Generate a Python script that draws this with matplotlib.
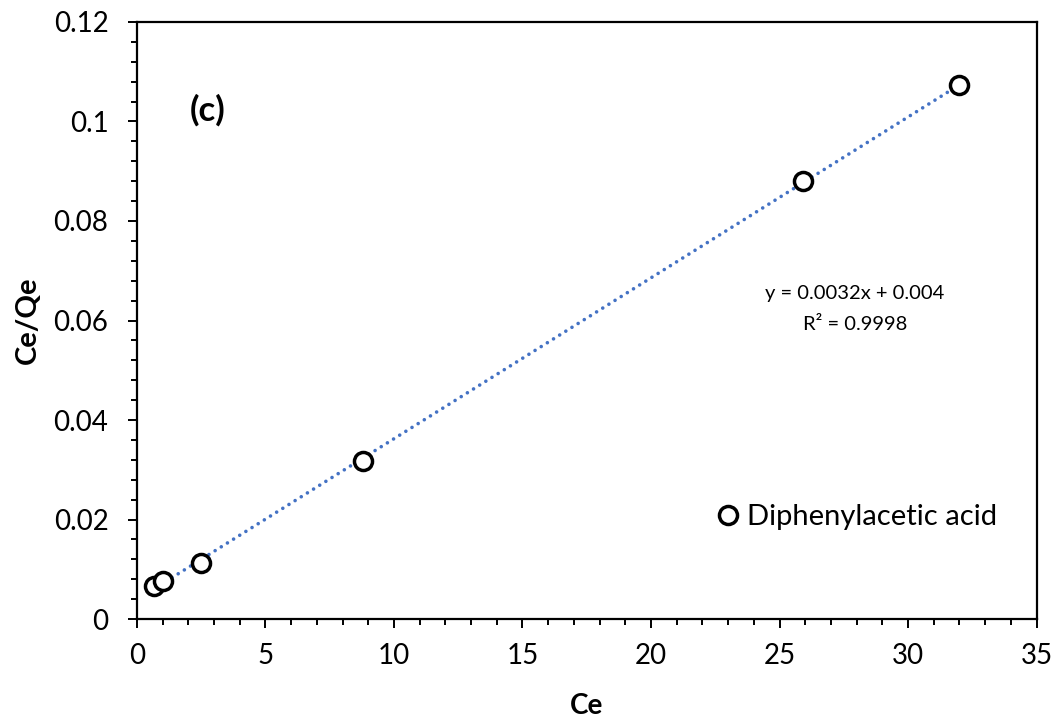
import matplotlib
matplotlib.use("Agg")
import matplotlib.pyplot as plt
from matplotlib.ticker import MultipleLocator, FuncFormatter
import numpy as np

plt.rcParams['font.family'] = ['Lato', 'DejaVu Sans']

# data
ce = [0.65, 1.0, 2.5, 8.8, 25.9, 32.0]
ce_qe = [0.0066, 0.0076, 0.0113, 0.0317, 0.0880, 0.1073]
series_name = "Diphenylacetic acid"
eq_line = "y = 0.0032x + 0.004"
r2_line = "R\u00b2 = 0.9998"

fig = plt.figure(figsize=(10.61, 7.23), dpi=100)
ax = fig.add_axes([0.129, 0.1438, 0.848, 0.8258])

# linear trendline (dotted, excel blue)
coef = np.polyfit(ce, ce_qe, 1)
xs = np.array([min(ce), max(ce)])
ax.plot(xs, np.polyval(coef, xs), color="#4472C4", lw=2.6,
        linestyle=(0, (0.01, 2.0)), dash_capstyle="round", zorder=2)

ax.plot(ce, ce_qe, 'o', mfc="white", mec="black", ms=13, mew=2.5,
        ls="none", label=series_name, zorder=3)

ax.set_xlim(0, 35)
ax.set_ylim(0, 0.12)
ax.xaxis.set_major_locator(MultipleLocator(5))
ax.xaxis.set_minor_locator(MultipleLocator(1))
ax.yaxis.set_major_locator(MultipleLocator(0.02))
ax.yaxis.set_minor_locator(MultipleLocator(0.004))
ax.yaxis.set_major_formatter(FuncFormatter(lambda v, p: "%g" % round(v, 4)))

for s in ax.spines.values():
    s.set_linewidth(1.6)
ax.tick_params(which="both", direction="out", width=1.4, labelsize=20)
ax.tick_params(which="major", length=6.5)
ax.tick_params(axis="y", which="major", pad=14)
ax.tick_params(axis="x", which="major", pad=11)
ax.tick_params(which="minor", length=4)

ax.set_xlabel("Ce", fontsize=20, fontweight="bold", va="center")
ax.set_ylabel("Ce/Qe", fontsize=21, fontweight="bold", va="center")
ax.xaxis.set_label_coords(0.5, -0.1457)
ax.yaxis.set_label_coords(-0.121, 0.5)

ax.text(0.079, 0.852, "(c)", transform=ax.transAxes, fontsize=25,
        fontweight="bold", ha="center", va="center")
ax.text(0.798, 0.546, eq_line, transform=ax.transAxes, fontsize=14.5,
        ha="center", va="center")
ax.text(0.798, 0.4925, r2_line, transform=ax.transAxes, fontsize=14.5,
        ha="center", va="center")

ax.legend(loc="center left", bbox_to_anchor=(0.6406, 0.171), frameon=False,
          fontsize=21, borderpad=0, borderaxespad=0, handletextpad=0.15,
          handlelength=1.0, markerscale=1.0)

fig.savefig("out.png", dpi=100)
